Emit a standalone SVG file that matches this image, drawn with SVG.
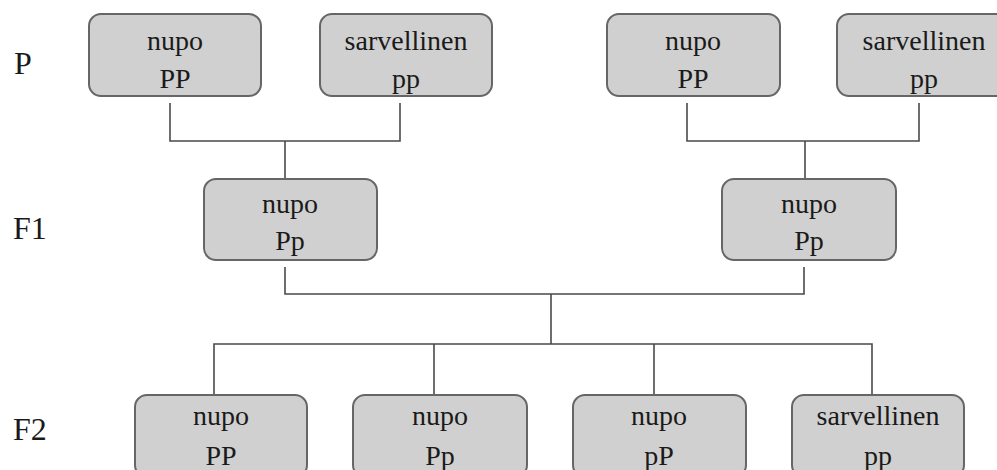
<svg xmlns="http://www.w3.org/2000/svg" width="997" height="470" viewBox="0 0 997 470">
<style>
.box{fill:#d0d0d0;stroke:#666;stroke-width:2}
.t{font-family:"Liberation Serif","Times New Roman",serif;font-size:28px;fill:#1a1a1a;text-anchor:middle}
.lbl{font-family:"Liberation Serif","Times New Roman",serif;font-size:32px;fill:#1a1a1a}
.c{fill:none;stroke:#4a4a4a;stroke-width:1.6}
</style>
<rect width="997" height="470" fill="#fff"/>
<g id="labels">
<text class="lbl" x="14" y="74">P</text>
<text class="lbl" x="13" y="239">F1</text>
<text class="lbl" x="13" y="440">F2</text>
</g>
<g id="connectors">
<path class="c" d="M170,103 V141 H400 V103 M285,141 V179"/>
<path class="c" d="M687,103 V141 H919 V103 M805,141 V179"/>
<path class="c" d="M285,267 V294 H804 V267 M551,294 V344"/>
<path class="c" d="M214,394 V344 H872 V394 M434,344 V394 M654,344 V394"/>
</g>
<g id="p1"><rect class="box" x="89" y="14" width="172" height="82" rx="12"/><text class="t" x="175" y="50">nupo</text><text class="t" x="175" y="88">PP</text></g>
<g id="p2"><rect class="box" x="320" y="14" width="172" height="82" rx="12"/><text class="t" x="406" y="50">sarvellinen</text><text class="t" x="406" y="88">pp</text></g>
<g id="p3"><rect class="box" x="607" y="14" width="173" height="82" rx="12"/><text class="t" x="693" y="50">nupo</text><text class="t" x="693" y="88">PP</text></g>
<g id="p4"><rect class="box" x="837" y="14" width="174" height="82" rx="12"/><text class="t" x="924" y="50">sarvellinen</text><text class="t" x="924" y="88">pp</text></g>
<g id="f1a"><rect class="box" x="204" y="179" width="173" height="81" rx="12"/><text class="t" x="290" y="213">nupo</text><text class="t" x="290" y="250">Pp</text></g>
<g id="f1b"><rect class="box" x="722" y="179" width="174" height="81" rx="12"/><text class="t" x="809" y="213">nupo</text><text class="t" x="809" y="250">Pp</text></g>
<g id="f2a"><rect class="box" x="135" y="395" width="172" height="82" rx="12"/><text class="t" x="221" y="425">nupo</text><text class="t" x="221" y="465">PP</text></g>
<g id="f2b"><rect class="box" x="353" y="395" width="174" height="82" rx="12"/><text class="t" x="440" y="425">nupo</text><text class="t" x="440" y="465">Pp</text></g>
<g id="f2c"><rect class="box" x="573" y="395" width="173" height="82" rx="12"/><text class="t" x="659" y="425">nupo</text><text class="t" x="659" y="465">pP</text></g>
<g id="f2d"><rect class="box" x="792" y="395" width="172" height="82" rx="12"/><text class="t" x="878" y="425">sarvellinen</text><text class="t" x="878" y="465">pp</text></g>
</svg>
